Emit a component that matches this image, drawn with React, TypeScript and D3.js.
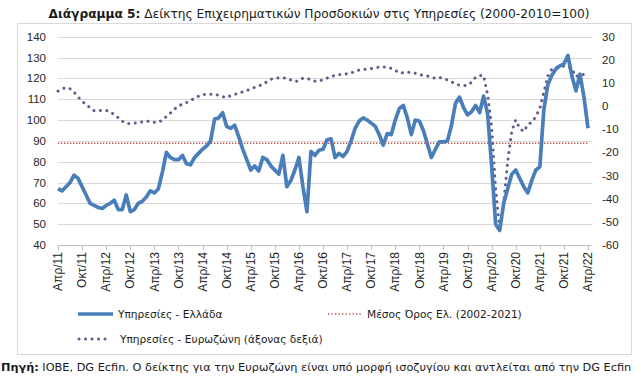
import React from "react";
import * as d3 from "d3";

// Greek services business expectations index (left axis), monthly Apr 2011 – Apr 2022
const greece: number[] = [
  67, 66, 68, 70, 73.5, 72, 68, 64, 60, 59, 58, 57.5,
  59, 60, 61.5, 57, 57, 64, 56, 57, 60, 61, 63, 66,
  65, 67, 75, 84.5, 82, 81, 81, 83, 79, 78.5, 82, 84,
  86, 87.5, 90, 100.5, 101, 103.5, 97, 96, 97.5, 92, 86, 81,
  76, 78, 75.5, 82, 81, 78, 76, 74, 83, 68, 71, 76,
  82, 68, 56, 85, 83, 85.5, 86, 90.5, 91, 82, 84, 82.5,
  85, 90, 96, 99.5, 101, 100, 98.5, 97, 93, 88, 93.5, 93,
  100, 105.5, 107, 101, 93, 100, 99.5, 95, 88.5, 82, 86, 89.5,
  89.5, 90, 97.5, 108, 111, 106, 102.5, 104, 107, 103.5, 111.5, 103,
  78, 50, 47, 60, 67, 74, 76, 72, 68, 65, 71, 76,
  77.5, 105, 117, 121.5, 124.5, 126, 127, 131, 121, 114, 122, 111,
  96,
];

// Eurozone services confidence (balance, right axis)
const eurozone: number[] = [
  6.5, 7.5, 8, 7.5, 6, 4, 2, 0.8, -0.8, -2, -2, -1.8,
  -1.8, -2.5, -3.6, -5, -6.5, -7.5, -7.5, -7.3, -7.2, -6.8, -6.4, -6.8,
  -7, -7, -6, -4.5, -3, -1.3, 0, 0.9, 1.5, 2.5, 3.3, 4.3,
  5, 5.1, 5.1, 5.1, 4.7, 4.1, 3.7, 4.5, 5.1, 5.5, 6.2, 6.7,
  7.5, 8.1, 8.7, 9.4, 10.5, 11.6, 12, 12.2, 12.3, 12, 11.3, 10.6,
  11, 12.1, 11.8, 11.6, 10.8, 10.8, 11.4, 12.1, 12.7, 13.3, 13.7, 13.7,
  14, 14.3, 15, 15.6, 15.8, 16, 16.2, 16.5, 16.9, 16.9, 16.9, 16.3,
  15.5, 14.3, 14.4, 14.6, 14.6, 14.2, 13.6, 13.3, 13, 12.5, 12, 12.3,
  12, 11.3, 10.5, 9.6, 9, 8.8, 9.1, 10.3, 12.5, 13.2, 13.2, 5,
  -9, -36, -53, -42, -24, -11, -6, -9.6, -11, -8, -7, -4.5,
  -1, 6, 13, 16, 16.8, 17, 17.3, 17.3, 16, 12.7, 13.7, 13.7,
  13.2,
];

const greekMean = 88.8;

const leftTicks = [40, 50, 60, 70, 80, 90, 100, 110, 120, 130, 140];
const rightTicks = [-60, -50, -40, -30, -20, -10, 0, 10, 20, 30];
const monthNames = ["Απρ", "Οκτ"];
const startYear = 2011;

const W = 641;
const H = 377;
const plotLeft = 58;
const plotRight = 588;
const plotTop = 36.7;
const plotBottom = 245;

export default function App() {
  const n = greece.length;
  const x = d3.scaleLinear().domain([0, n - 1]).range([plotLeft, plotRight]);
  const yL = d3.scaleLinear().domain([40, 140]).range([plotBottom, plotTop]);
  const yR = d3.scaleLinear().domain([-60, 30]).range([plotBottom, plotTop]);

  const lineL = d3
    .line<number>()
    .x((_, i) => x(i))
    .y((d) => yL(d))
    .curve(d3.curveLinear);
  const lineR = d3
    .line<number>()
    .x((_, i) => x(i))
    .y((d) => yR(d))
    .curve(d3.curveLinear);

  const tickIdx = d3.range(0, n, 6);
  const labelFor = (i: number) => {
    const half = (i / 6) % 2;
    const yr = startYear + Math.floor((i + 3) / 12);
    return `${monthNames[half]}/${String(yr).slice(2)}`;
  };

  const font = "'DejaVu Sans', 'Open Sans', sans-serif";
  const axisFont = "'Liberation Sans', Arial, sans-serif";
  const legendSize = 10.6;

  return (
    <svg
      width={W}
      height={H}
      viewBox={`0 0 ${W} ${H}`}
      style={{ position: "absolute", left: 0, top: 0, display: "block", background: "#fff" }}
    >
      <rect x={0} y={0} width={W} height={H} fill="#fff" />
      <text
        x={319}
        y={18}
        textAnchor="middle"
        fontFamily={font}
        fontSize={12.2}
        fill="#1a1a1a"
      >
        <tspan fontWeight="bold">Διάγραμμα 5:</tspan>
        <tspan> Δείκτης Επιχειρηματικών Προσδοκιών στις Υπηρεσίες (2000-2010=100)</tspan>
      </text>

      <rect x={17.5} y={23.5} width={614} height={331} fill="none" stroke="#d9d9d9" strokeWidth={1} />

      {/* grid */}
      {leftTicks.map((t) => (
        <line
          key={`g${t}`}
          x1={plotLeft}
          x2={plotRight + 4}
          y1={Math.round(yL(t)) + 0.5}
          y2={Math.round(yL(t)) + 0.5}
          stroke={t === 40 ? "#bfbfbf" : "#d9d9d9"}
          strokeWidth={1}
        />
      ))}
      {tickIdx.map((i) => (
        <line
          key={`t${i}`}
          x1={Math.round(x(i)) + 0.5}
          x2={Math.round(x(i)) + 0.5}
          y1={Math.round(yL(40)) + 0.5}
          y2={Math.round(yL(40)) + 5}
          stroke="#bfbfbf"
          strokeWidth={1}
        />
      ))}

      {/* left axis labels */}
      {leftTicks.map((t) => (
        <text
          key={`l${t}`}
          x={46}
          y={yL(t)}
          dy="0.35em"
          textAnchor="end"
          fontFamily={axisFont}
          fontSize={11.5}
          fill="#262626"
        >
          {t}
        </text>
      ))}
      {/* right axis labels */}
      {rightTicks.map((t) => (
        <text
          key={`r${t}`}
          x={602}
          y={yR(t)}
          dy="0.35em"
          textAnchor="start"
          fontFamily={axisFont}
          fontSize={11.5}
          fill="#262626"
        >
          {t}
        </text>
      ))}
      {/* x labels */}
      {tickIdx.map((i) => (
        <text
          key={`x${i}`}
          transform={`translate(${x(i)},252) rotate(-90)`}
          dy="0.35em"
          textAnchor="end"
          fontFamily={axisFont}
          fontSize={12}
          fill="#262626"
        >
          {labelFor(i)}
        </text>
      ))}

      {/* mean line */}
      <line
        x1={plotLeft}
        x2={plotRight}
        y1={yL(greekMean)}
        y2={yL(greekMean)}
        stroke="#c0504d"
        strokeWidth={1.5}
        strokeDasharray="1.3 1.7"
      />

      {/* eurozone dotted */}
      <path
        d={lineR(eurozone) ?? ""}
        fill="none"
        stroke="#6a5a8c"
        strokeWidth={3}
        strokeLinecap="round"
        strokeDasharray="0.1 6.4"
      />
      {/* greece */}
      <path
        d={lineL(greece) ?? ""}
        fill="none"
        stroke="#4a7ebb"
        strokeWidth={3.7}
        strokeLinejoin="round"
      />

      {/* legend */}
      <line x1={78} x2={113} y1={314} y2={314} stroke="#4a7ebb" strokeWidth={3.7} />
      <text x={118} y={314} dy="0.35em" fontFamily={font} fontSize={legendSize} fill="#1a1a1a">
        Υπηρεσίες  - Ελλάδα
      </text>
      <line
        x1={328}
        x2={363}
        y1={314}
        y2={314}
        stroke="#c0504d"
        strokeWidth={1.3}
        strokeDasharray="1.3 2.2"
      />
      <text x={367} y={314} dy="0.35em" fontFamily={font} fontSize={legendSize} fill="#1a1a1a">
        Μέσος Όρος Ελ. (2002-2021)
      </text>
      <line
        x1={79}
        x2={111}
        y1={339}
        y2={339}
        stroke="#6a5a8c"
        strokeWidth={3}
        strokeLinecap="round"
        strokeDasharray="0.1 6.4"
      />
      <text x={120} y={339} dy="0.35em" fontFamily={font} fontSize={legendSize} fill="#1a1a1a">
        Υπηρεσίες - Ευρωζώνη (άξονας δεξιά)
      </text>

      {/* source */}
      <text x={1} y={371} fontFamily={font} fontSize={11.3} fill="#1a1a1a">
        <tspan fontWeight="bold">Πηγή:</tspan>
        <tspan> IOBE, DG Ecfin. Ο δείκτης για την Ευρωζώνη είναι υπό μορφή ισοζυγίου και αντλείται από την DG Ecfin</tspan>
      </text>
    </svg>
  );
}
